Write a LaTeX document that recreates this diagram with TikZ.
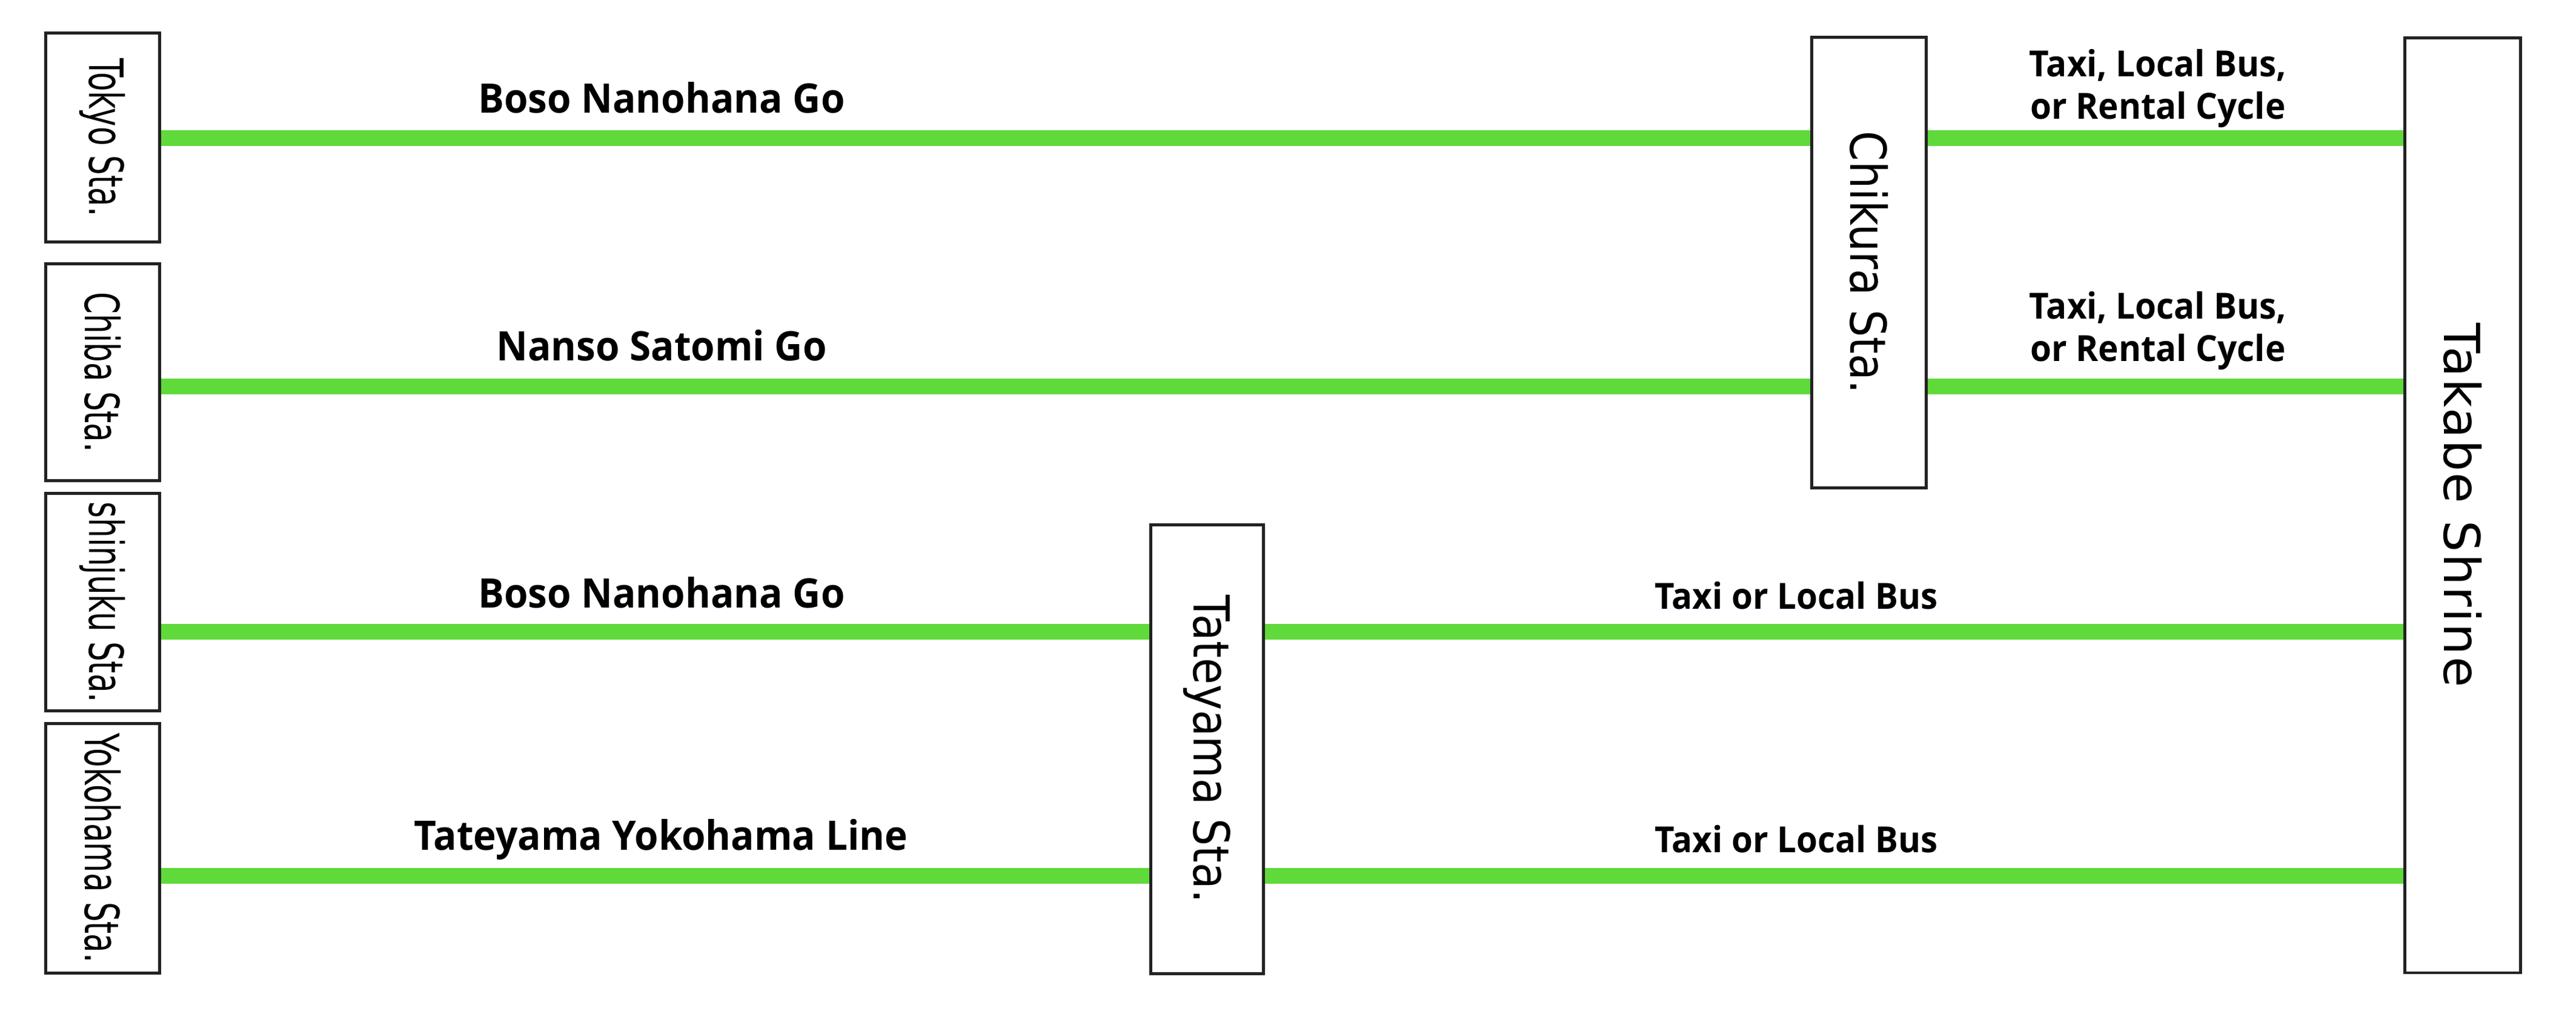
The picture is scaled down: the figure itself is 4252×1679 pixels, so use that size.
\documentclass[tikz,border=0pt]{standalone}
\usepackage{fontspec}
\usetikzlibrary{positioning}
\definecolor{routegreen}{RGB}{96,217,58}
\definecolor{boxgray}{RGB}{34,34,34}
\newfontfamily\stafont[FakeStretch=0.66]{DejaVu Sans}
\newfontfamily\hubfont[FakeStretch=0.87]{DejaVu Sans}
\newfontfamily\shrinefont[LetterSpace=3]{DejaVu Sans}
\newfontfamily\lblfont[FakeStretch=0.95]{Open Sans}
\tikzset{
    sta/.style={draw=boxgray,line width=1.4pt,fill=white,inner sep=0pt,
        minimum width=1.88cm,font=\stafont\fontsize{22.2}{26}\selectfont},
    hub/.style={sta,font=\hubfont\fontsize{23.3}{28}\selectfont},
    route/.style={color=routegreen,line width=7.4pt},
    lbl/.style={anchor=base,inner sep=0pt,font=\lblfont\bfseries\fontsize{19.1}{23}\selectfont},
    mode/.style={lbl,align=center,font=\lblfont\bfseries\fontsize{16.9}{19.9}\selectfont}
}

\begin{document}
\begin{tikzpicture}[x=0.01cm,y=-0.01cm]
    \useasboundingbox (0,0) rectangle (4252,1679);
    \node[sta,minimum height=3.45cm] (tokyo) at (169.5,227) {\rotatebox{-90}{Tokyo Sta.}};
    \node[sta,minimum height=3.58cm] (chiba) [below=0.31cm of tokyo] {\rotatebox{-90}{Chiba Sta.}};
    \node[sta,minimum height=3.59cm] (shinjuku) [below=0.16cm of chiba] {\rotatebox{-90}{shinjuku Sta.}};
    \node[sta,minimum height=4.11cm] (yokohama) [below=0.16cm of shinjuku] {\rotatebox{-90}{Yokohama Sta.}};
    \node[hub,minimum width=1.89cm,minimum height=7.44cm] (chikura) at (3085,433.5) {\rotatebox{-90}{Chikura Sta.}};
    \node[hub,minimum width=1.86cm,minimum height=7.41cm] (tateyama) at (1992.5,1237) {\rotatebox{-90}{Tateyama Sta.}};
    \node[hub,minimum width=1.91cm,minimum height=15.43cm,font=\shrinefont\fontsize{23.3}{28}\selectfont]
        (takabe) at (4065,834) {\rotatebox{-90}{Takabe Shrine}};
    \coordinate (r1) at (0,228);
    \coordinate (r2) at (0,638);
    \coordinate (r3) at (0,1043);
    \coordinate (r4) at (0,1446);
    \draw[route]
    (tokyo.east |- r1) -- (chikura.west |- r1)
    (chikura.east |- r1) -- (takabe.west |- r1)
    (chiba.east |- r2) -- (chikura.west |- r2)
    (chikura.east |- r2) -- (takabe.west |- r2)
    (shinjuku.east |- r3) -- (tateyama.west |- r3)
    (tateyama.east |- r3) -- (takabe.west |- r3)
    (yokohama.east |- r4) -- (tateyama.west |- r4)
    (tateyama.east |- r4) -- (takabe.west |- r4)
    ;
    \node[lbl] (boso1) at (1092,187) {Boso Nanohana Go};
    \node[lbl] (nanso) at (1092,595) {Nanso Satomi Go};
    \node[lbl] (boso2) at (1092,1003) {Boso Nanohana Go};
    \node[lbl] (tyline) at (1091,1403) {Tateyama Yokohama Line};
    \node[mode] (cycle1) at (3562,196) {Taxi, Local Bus,\\or Rental Cycle};
    \node[mode] (cycle2) at (3562,596) {Taxi, Local Bus,\\or Rental Cycle};
    \node[mode] (bus1) at (2965,1005) {Taxi or Local Bus};
    \node[mode] (bus2) at (2965,1407) {Taxi or Local Bus};
\end{tikzpicture}
\end{document}
